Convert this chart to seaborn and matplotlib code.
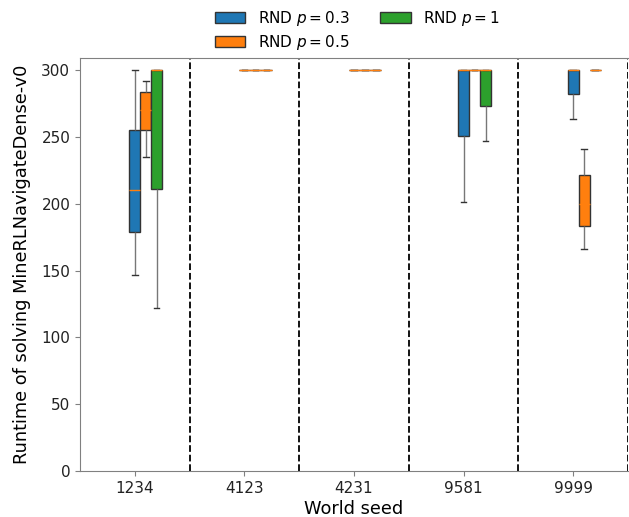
import numpy as np
import pandas as pd
import matplotlib
matplotlib.use("Agg")
import matplotlib.pyplot as plt
import seaborn as sns

seeds = ["1234", "4123", "4231", "9581", "9999"]
methods = ["RND $p=0.3$", "RND $p=0.5$", "RND $p=1$"]

# five-number style samples per seed: [min, q1, median, q3, max]
rnd_p03 = [
    [147, 179, 210, 255, 300],
    [300, 300, 300, 300, 300],
    [300, 300, 300, 300, 300],
    [201.5, 250.6, 300, 300, 300],
    [263.6, 281.8, 300, 300, 300],
]
rnd_p05 = [
    [234.7, 254.9, 270, 283.5, 291.8],
    [300, 300, 300, 300, 300],
    [300, 300, 300, 300, 300],
    [300, 300, 300, 300, 300],
    [166.3, 183.5, 200, 221.4, 240.6],
]
rnd_p1 = [
    [122.2, 211, 300, 300, 300],
    [300, 300, 300, 300, 300],
    [300, 300, 300, 300, 300],
    [247.1, 273.3, 300, 300, 300],
    [300, 300, 300, 300, 300],
]

rows = []
for m, series in zip(methods, [rnd_p03, rnd_p05, rnd_p1]):
    for s, vals in zip(seeds, series):
        for v in vals:
            rows.append({"seed": s, "method": m, "runtime": v})
df = pd.DataFrame(rows)

fig = plt.figure(figsize=(6.29, 5.17), dpi=100)
ax = fig.add_axes([80 / 629, 1 - 471 / 517, 548 / 629, (471 - 58) / 517])

sns.boxplot(
    data=df, x="seed", y="runtime", hue="method", order=seeds, hue_order=methods,
    palette=["#1f77b4", "#ff7f0e", "#2ca02c"], saturation=1, width=0.3, gap=0,
    whis=np.inf, showfliers=False, linewidth=1, linecolor="#333333",
    medianprops=dict(color="#ff7f0e", linewidth=1),
    whiskerprops=dict(color="#777777", linewidth=1),
    capprops=dict(color="#333333", linewidth=1),
    ax=ax,
)

# the first hue box sits on the tick, the others to its right
shift = 0.1
n = len(seeds)
ax.set_xlim(-0.5 - shift, n - 0.5 - shift)
ax.set_xticks(np.arange(n) - shift)
ax.set_xticklabels(seeds)
for xv in np.arange(1, n + 1) - 0.5 - shift:
    ax.axvline(xv, color="black", linestyle="--", linewidth=1.3)
ax.set_ylim(0, 309)

for side in ["left", "top", "bottom"]:
    ax.spines[side].set_color("#808080")
ax.spines["right"].set_visible(False)
ax.tick_params(colors="#808080", labelcolor="#222222", labelsize=11)

ax.set_xlabel("World seed", fontsize=12.8, labelpad=3)
ax.set_ylabel("Runtime of solving MineRLNavigateDense-v0", fontsize=12.8, labelpad=7.5)

handles, labels = ax.get_legend_handles_labels()
ax.legend_.remove()
fig.legend(handles, labels, loc="upper center", bbox_to_anchor=(0.568, 1.01),
           ncol=2, frameon=False, fontsize=11, handlelength=2.0,
           columnspacing=2.0, labelspacing=0.35)

fig.savefig("out.png", dpi=100)
